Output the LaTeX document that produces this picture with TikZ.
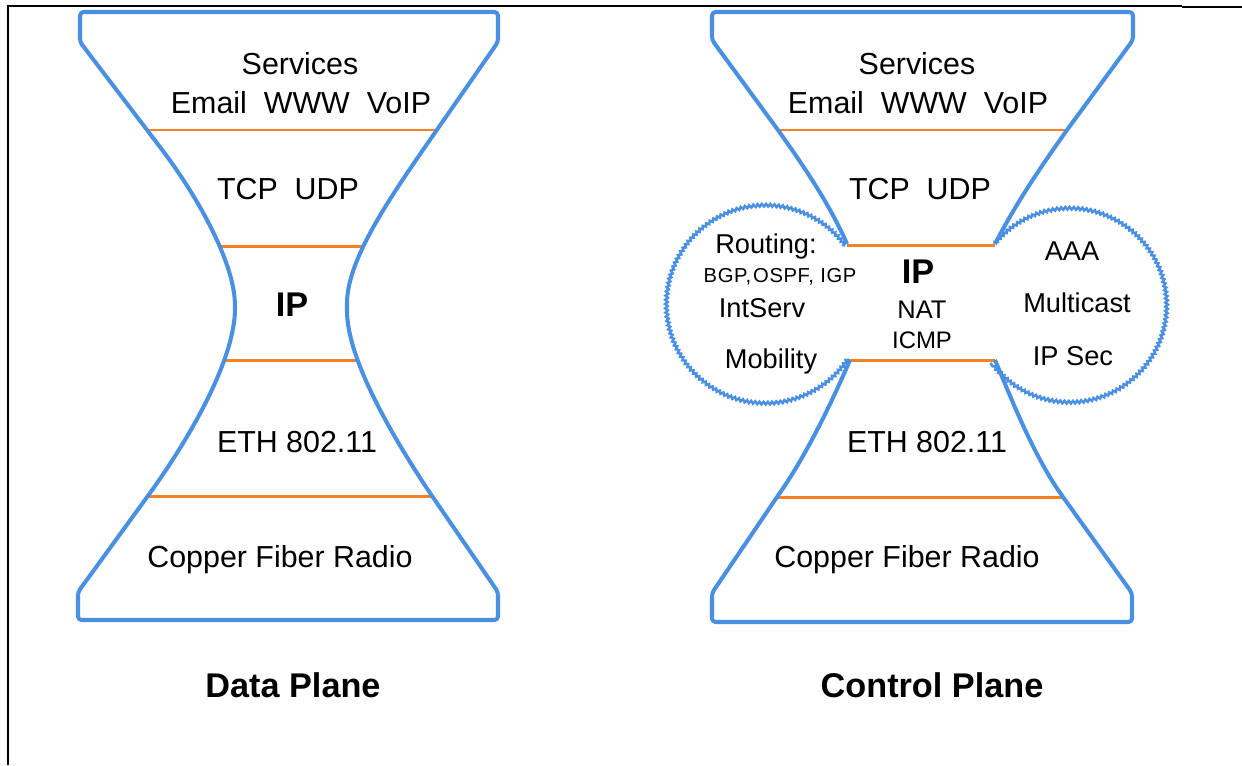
\documentclass[tikz,border=0pt]{standalone}
\usepackage{fontspec}
\setmainfont{Liberation Sans}
\newfontfamily\spacedfont[LetterSpace=3]{Liberation Sans}
\usetikzlibrary{decorations.pathmorphing}
\definecolor{hgblue}{RGB}{74,144,226}
\definecolor{layorange}{RGB}{245,128,37}
\begin{document}
\begin{tikzpicture}[x=0.02cm,y=-0.02cm,
  hg/.style={draw=hgblue, line width=2.3pt, line join=round, rounded corners=2pt},
  layer/.style={draw=layorange, line width=1.7pt},
  wavy/.style={draw=hgblue, line width=1.4pt, decorate,
    decoration={snake, amplitude=0.75pt, segment length=2.4pt}},
  frame/.style={draw=black, line width=1.1pt},
  thinframe/.style={draw=black, line width=0.6pt},
  txt/.style={anchor=base, inner sep=0pt, font=\fontsize{17.3}{20}\selectfont},
  ctxt/.style={anchor=base, inner sep=0pt, font=\fontsize{15.5}{18}\selectfont},
  bigbold/.style={anchor=base, inner sep=0pt, font=\fontsize{19.5}{22}\selectfont\bfseries}
]
\useasboundingbox (0,0) rectangle (1242,765);
% page frame
\draw[frame] (8,765) -- (8,6) -- (70,6);
\draw[thinframe] (70,6) -- (1182,6);
\draw[frame] (1182,7) -- (1242,7);

% ---------- Data plane ----------
\draw[layer] (147,130) -- (437,130);
\draw[layer] (218,246) -- (364,246);
\draw[layer] (223,360) -- (359,360);
\draw[layer] (147,496) -- (433,496);
\draw[hg] (80,42) -- (80,12) -- (498,12) -- (498,42) -- (425,147)
  .. controls (385,205) and (347,262) .. (347,307)
  .. controls (347,355) and (385,425) .. (430,493)
  -- (498,592) -- (498,620) -- (78,620) -- (78,592) -- (150,493)
  .. controls (197,427) and (235,355) .. (235,305)
  .. controls (233,262) and (200,200) .. (160,147) -- cycle;

\node[txt] (dsrv) at (300,74) {Services};
\node[txt] (dapp) at (301,113) {Email\ \ WWW\ \ VoIP};
\node[txt] (dtcp) at (288,199) {TCP\ \ UDP};
\node[bigbold] (dip) at (292,316) {IP};
\node[txt] (deth) at (297,452) {ETH 802.11};
\node[txt] (dphy) at (280,567) {Copper Fiber Radio};
\node[bigbold] (dtitle) at (293,697) {Data Plane};

% ---------- Control plane ----------
\draw[layer] (778,130) -- (1067,130);
\draw[layer] (847,245) -- (995,245);
\draw[layer] (850,360) -- (995,360);
\draw[layer] (777,497) -- (1063,497);
\draw[hg] (847,244) .. controls (830,205) and (805,168) .. (778,130)
  -- (712,40) -- (712,12) -- (1133,12) -- (1133,40) -- (1067,130)
  .. controls (1040,168) and (1015,205) .. (995,244);
\draw[hg] (995,360) .. controls (1010,395) and (1032,453) .. (1063,497)
  -- (1132,593) -- (1132,622) -- (712,622) -- (712,593) -- (777,497)
  .. controls (808,453) and (835,395) .. (850,360);
% side circles
\draw[wavy] (766,305) ++(-37:99) arc[start angle=-37, end angle=-327, radius=99];
\draw[wavy] (1069,306) ++(-140:97) arc[start angle=-140, end angle=144, radius=97];

\node[txt] (csrv) at (917,74) {Services};
\node[txt] (capp) at (918,113) {Email\ \ WWW\ \ VoIP};
\node[txt] (ctcp) at (920,199) {TCP\ \ UDP};
\node[bigbold] (cip) at (918,283) {IP};
\node[anchor=base, inner sep=0pt, font=\fontsize{14.5}{17}\selectfont] (cnat) at (922,318) {NAT};
\node[anchor=base, inner sep=0pt, font=\fontsize{13.6}{16}\selectfont] (cicmp) at (922,348) {ICMP};
\node[ctxt] (crout) at (766,253) {Routing:};
\node[anchor=base, inner sep=0pt, font=\fontsize{11.5}{13}\spacedfont] (cbgp) at (780,282) {BGP,\hspace{0.1em}OSPF, IGP};
\node[ctxt] (cint) at (762,317) {IntServ};
\node[ctxt] (cmob) at (771,368) {Mobility};
\node[ctxt] (caaa) at (1072,260) {AAA};
\node[ctxt] (cmul) at (1077,312) {Multicast};
\node[ctxt] (csec) at (1073,365) {IP Sec};
\node[txt] (ceth) at (927,452) {ETH 802.11};
\node[txt] (cphy) at (907,567) {Copper Fiber Radio};
\node[bigbold] (ctitle) at (932,697) {Control Plane};
\end{tikzpicture}
\end{document}
